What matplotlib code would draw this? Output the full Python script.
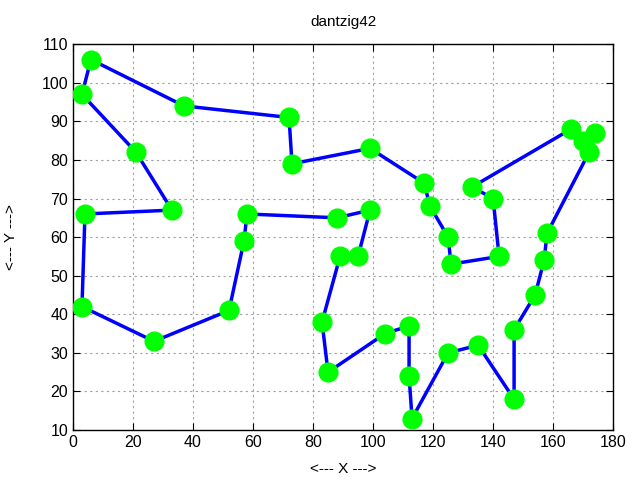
import matplotlib
matplotlib.use('Agg')
import matplotlib.pyplot as plt

plt.rcParams['font.family'] = ['Liberation Sans', 'DejaVu Sans']

# tour order (closed)
xs = [6, 37, 72, 73, 99, 117, 119, 125, 126, 142, 140, 133, 166, 170, 174, 172,
      158, 157, 154, 147, 147, 135, 125, 113, 112, 112, 104, 85, 83, 89, 95, 99,
      88, 58, 57, 52, 27, 3, 4, 33, 21, 3]
ys = [106, 94, 91, 79, 83, 74, 68, 60, 53, 55, 70, 73, 88, 85, 87, 82,
      61, 54, 45, 36, 18, 32, 30, 13, 24, 37, 35, 25, 38, 55, 55, 67,
      65, 66, 59, 41, 33, 42, 66, 67, 82, 97]

xt = xs + [xs[0]]
yt = ys + [ys[0]]

fig = plt.figure(figsize=(6.4, 4.8), dpi=100)
ax = fig.add_axes([0.114, 0.104, 0.844, 0.804])
ax.plot(xt, yt, color='#0000ff', lw=2.5, zorder=2)
ax.plot(xs, ys, 'o', color='#00ff00', ms=13.5, mec='#00ff00', zorder=3)

ax.set_xlim(0, 180)
ax.set_ylim(10, 110)
ax.set_xticks(range(0, 181, 20))
ax.set_yticks(range(10, 111, 10))
ax.grid(True, color='#a0a0a0', ls=(0, (2, 3)), lw=0.8)
ax.tick_params(direction='in', top=True, right=True, length=5, labelsize=11.5)
for s in ax.spines.values():
    s.set_linewidth(1.0)

ax.set_title('dantzig42', fontsize=11, pad=13)
ax.set_xlabel('<--- X --->', fontsize=11, labelpad=9)
ax.set_ylabel('<--- Y --->', fontsize=11, labelpad=17)

fig.savefig('out.png', dpi=100)
